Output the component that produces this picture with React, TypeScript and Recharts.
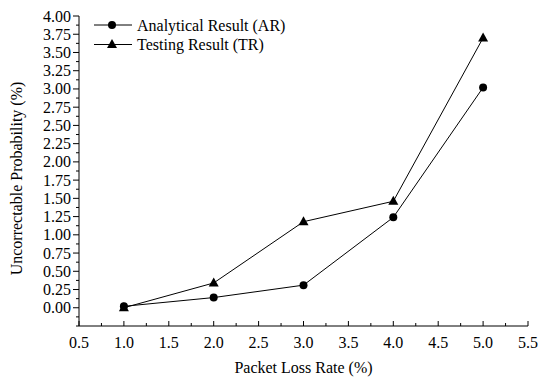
import { LineChart, Line, XAxis, YAxis } from "recharts";

const lossRates = [1.0, 2.0, 3.0, 4.0, 5.0];
const analytical = [0.02, 0.14, 0.31, 1.24, 3.02];
const testing = [0.0, 0.34, 1.18, 1.46, 3.7];

const xMajor = [0.5, 1.0, 1.5, 2.0, 2.5, 3.0, 3.5, 4.0, 4.5, 5.0, 5.5];
const yMajor = [0, 0.25, 0.5, 0.75, 1, 1.25, 1.5, 1.75, 2, 2.25, 2.5, 2.75, 3, 3.25, 3.5, 3.75, 4];

const FONT = '"Liberation Serif", "Times New Roman", "DejaVu Serif", serif';
const txt = { fontFamily: FONT, fontSize: 16, fill: "#000" };

const data = lossRates.map((x, i) => ({ x, ar: analytical[i], tr: testing[i] }));

// minor ticks sit halfway between the labelled ones
const xTicks = [...xMajor, ...xMajor.slice(0, -1).map((v) => v + 0.25)].sort((a, b) => a - b);
const yTicks = [-0.25, -0.125, ...yMajor, ...yMajor.slice(0, -1).map((v) => v + 0.125)].sort(
  (a, b) => a - b
);

const isMajor = (list: number[], v: number) => list.some((m) => Math.abs(m - v) < 1e-6);

function XTick(props: any) {
  const { x, y, payload } = props;
  const major = isMajor(xMajor, payload.value);
  return (
    <g>
      <line x1={x} x2={x} y1={y} y2={y - (major ? 5 : 3)} stroke="#000" />
      {major && (
        <text x={x} y={y + 22} textAnchor="middle" style={txt}>
          {payload.value.toFixed(1)}
        </text>
      )}
    </g>
  );
}

function YTick(props: any) {
  const { x, y, payload } = props;
  const major = isMajor(yMajor, payload.value);
  return (
    <g>
      <line x1={x - (major ? 6 : 3)} x2={x} y1={y} y2={y} stroke="#000" />
      {major && (
        <text x={x - 8} y={y + 5.5} textAnchor="end" style={txt}>
          {payload.value.toFixed(2)}
        </text>
      )}
    </g>
  );
}

function Triangle(props: any) {
  const { cx, cy } = props;
  if (cx == null || cy == null) return null;
  return <path d={`M${cx},${cy - 5.5} L${cx + 5},${cy + 3.5} L${cx - 5},${cy + 3.5} Z`} fill="#000" />;
}

function Dot(props: any) {
  const { cx, cy } = props;
  if (cx == null || cy == null) return null;
  return <circle cx={cx} cy={cy} r={4} fill="#000" />;
}

function XLabel(props: any) {
  const vb = props.viewBox;
  return (
    <text x={vb.x + vb.width / 2} y={373} textAnchor="middle" style={txt}>
      Packet Loss Rate (%)
    </text>
  );
}

function YLabel(props: any) {
  const vb = props.viewBox;
  const cy = vb.y + vb.height / 2 + 7.5;
  return (
    <text x={22} y={cy} textAnchor="middle" transform={`rotate(-90 22 ${cy})`} style={txt}>
      Uncorrectable Probability (%)
    </text>
  );
}

function LegendBox() {
  const rows = [
    { label: "Analytical Result (AR)", marker: "circle" },
    { label: "Testing Result (TR)", marker: "triangle" },
  ];
  return (
    <svg width={220} height={50}>
      {rows.map((r, i) => {
        const cy = 10 + i * 19.5;
        return (
          <g key={r.label}>
            <line x1={0} x2={38} y1={cy} y2={cy} stroke="#000" />
            {r.marker === "circle" ? <Dot cx={18} cy={cy} /> : <Triangle cx={18} cy={cy} />}
            <text x={43} y={cy + 5.5} style={txt}>
              {r.label}
            </text>
          </g>
        );
      })}
    </svg>
  );
}

export default function App() {
  return (
    <div style={{ position: "absolute", left: 0, top: 0, width: 538, height: 381, background: "#fff" }}>
      <LineChart width={538} height={381} data={data} margin={{ top: 16, right: 10, left: 0, bottom: 0 }}>
        <XAxis
          dataKey="x"
          type="number"
          domain={[0.5, 5.5]}
          ticks={xTicks}
          interval={0}
          height={55}
          tickSize={0}
          tickMargin={0}
          tick={<XTick />}
          axisLine={{ stroke: "#000" }}
          label={<XLabel />}
        />
        <YAxis
          type="number"
          domain={[-0.25, 4]}
          ticks={yTicks}
          interval={0}
          width={79}
          tickSize={0}
          tickMargin={0}
          tick={<YTick />}
          axisLine={{ stroke: "#000" }}
          label={<YLabel />}
        />
        <Line
          type="linear"
          dataKey="ar"
          stroke="#000"
          strokeWidth={1}
          dot={<Dot />}
          activeDot={false}
          isAnimationActive={false}
        />
        <Line
          type="linear"
          dataKey="tr"
          stroke="#000"
          strokeWidth={1}
          dot={<Triangle />}
          activeDot={false}
          isAnimationActive={false}
        />
      </LineChart>
      <div style={{ position: "absolute", left: 94, top: 15 }}>
        <LegendBox />
      </div>
    </div>
  );
}
